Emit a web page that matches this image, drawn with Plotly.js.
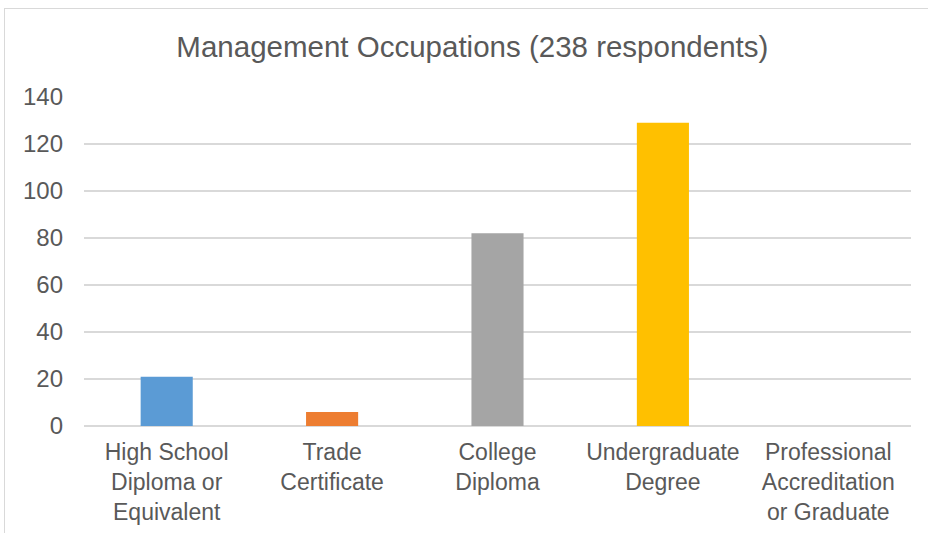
<!DOCTYPE html>
<html>
<head>
<meta charset="utf-8">
<script src="https://cdn.plot.ly/plotly-3.0.1.min.js"></script>
<style>
    html, body { margin: 0; padding: 0; background: #fff; }
    #wrap { position: relative; width: 928px; height: 533px; }
    #frame {
        position: absolute; left: 4px; top: 8px; right: -2px; bottom: -2px;
        border-top: 1.5px solid #d9d9d9; border-left: 1.5px solid #d9d9d9;
        pointer-events: none;
    }
    #mgmtChart { position: absolute; left: 0; top: 0; width: 928px; height: 533px; }
</style>
</head>
<body>
<div id="wrap">
    <div id="mgmtChart"></div>
    <div id="frame"></div>
</div>

<script>
    // Education level of respondents in management occupations
    var categories = [
        'High School<br>Diploma or<br>Equivalent',
        'Trade<br>Certificate',
        'College<br>Diploma',
        'Undergraduate<br>Degree',
        'Professional<br>Accreditation<br>or Graduate'
    ];
    var respondents = [21, 6, 82, 129, 0];
    var barColors = ['#5b9bd5', '#ed7d31', '#a5a5a5', '#ffc000', '#4472c4'];
    var yTicks = [0, 20, 40, 60, 80, 100, 120, 140];

    function createMgmtChart() {
        var trace = {
            x: categories,
            y: respondents,
            type: 'bar',
            marker: { color: barColors },
            hoverinfo: 'x+y'
        };

        var layout = {
            width: 928,
            height: 533,
            margin: { t: 97, r: 17, b: 107, l: 84 },
            title: {
                text: 'Management Occupations (238 respondents)',
                font: { family: '"Liberation Sans", Arial, sans-serif', size: 29.5, color: '#595959' },
                xref: 'container',
                x: 0.509,
                xanchor: 'center',
                yref: 'container',
                y: 1 - 47 / 533,
                yanchor: 'middle'
            },
            font: { family: '"Liberation Sans", Arial, sans-serif', size: 24, color: '#595959' },
            bargap: 0.685,
            showlegend: false,
            xaxis: {
                showgrid: false,
                showline: false,
                ticks: '',
                tickangle: 0,
                ticklabelstandoff: 10,
                tickfont: { size: 23, color: '#595959' }
            },
            yaxis: {
                range: [0, 140],
                tickmode: 'array',
                tickvals: yTicks,
                showgrid: true,
                gridcolor: '#d9d9d9',
                gridwidth: 1.5,
                zeroline: true,
                zerolinecolor: '#d9d9d9',
                zerolinewidth: 1.5,
                ticks: '',
                ticklabelstandoff: 20,
                tickfont: { size: 24, color: '#595959' }
            },
            paper_bgcolor: 'rgba(0,0,0,0)',
            plot_bgcolor: 'rgba(0,0,0,0)'
        };

        var config = { displayModeBar: false, responsive: false };

        Plotly.newPlot('mgmtChart', [trace], layout, config);
    }

    createMgmtChart();
</script>
</body>
</html>
